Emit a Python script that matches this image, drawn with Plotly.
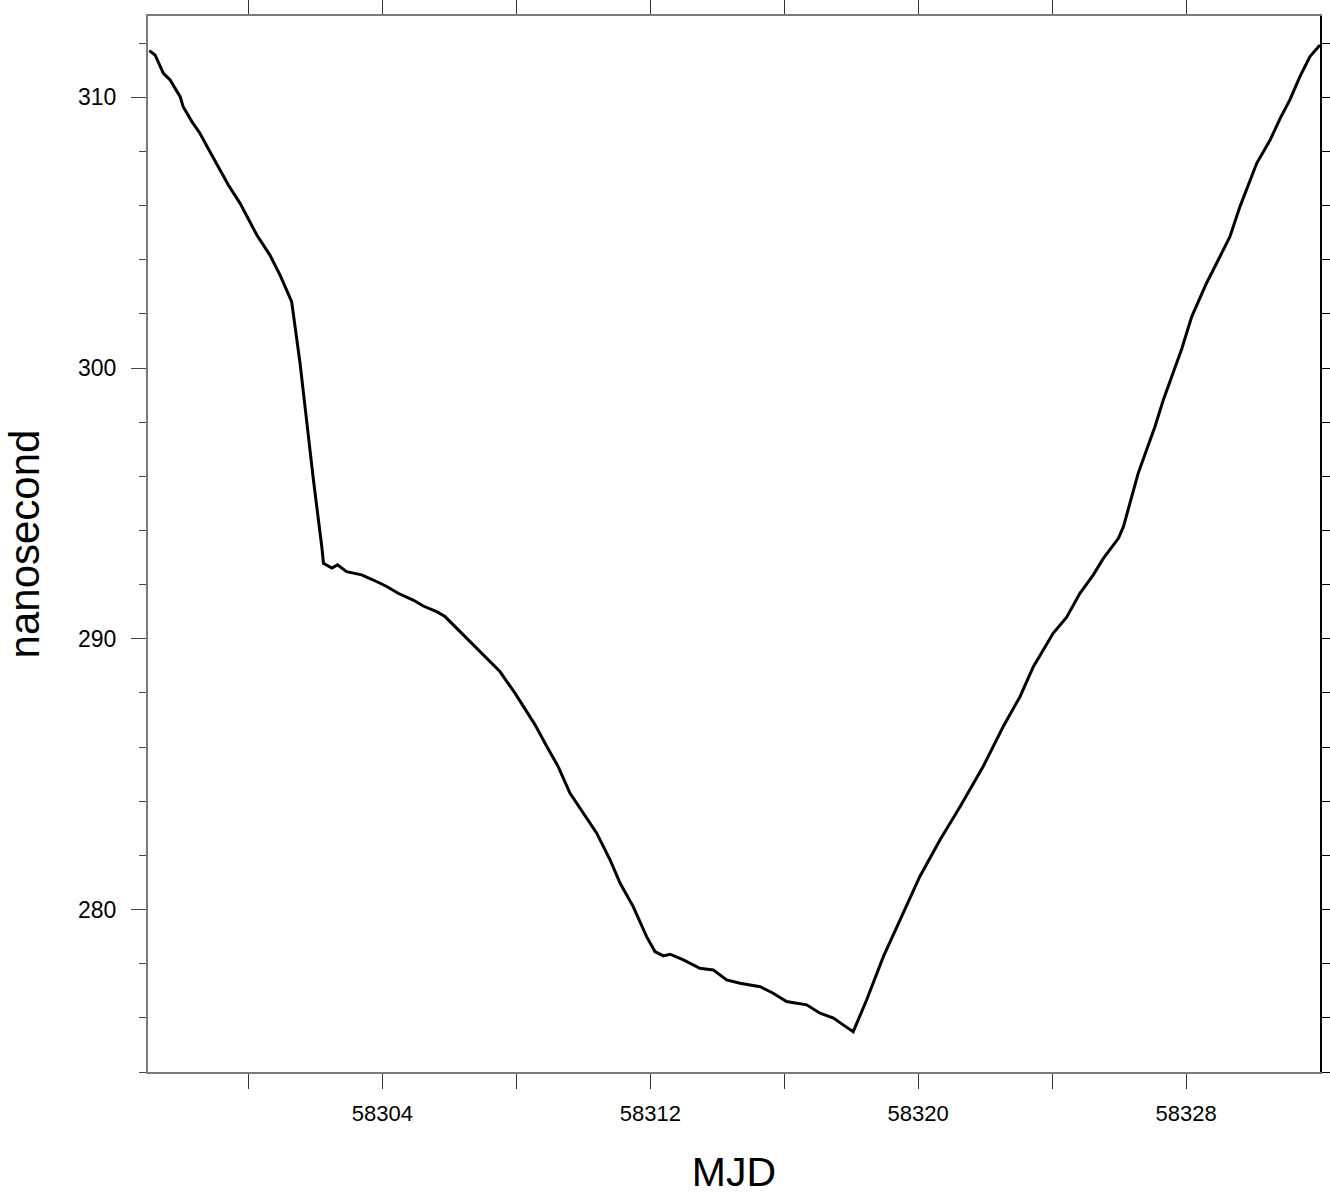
import plotly.graph_objects as go

mjd = [58297.04, 58297.21, 58297.46, 58297.66, 58297.96, 58298.05, 58298.31, 58298.55, 58298.85, 58299.15,
       58299.40, 58299.75, 58300.00, 58300.25, 58300.64, 58300.94, 58301.14, 58301.29,
       58301.54, 58301.74, 58301.94, 58302.19, 58302.24,
       58302.49, 58302.66, 58302.93, 58303.38, 58303.73, 58304.13, 58304.47, 58304.92, 58305.22, 58305.62,
       58305.87, 58306.22, 58306.85, 58307.51, 58307.96, 58308.21, 58308.56, 58308.91, 58309.25, 58309.60,
       58310.00, 58310.40, 58310.80, 58311.10, 58311.49, 58311.89, 58312.14, 58312.39, 58312.59, 58312.99,
       58313.48, 58313.88, 58314.28, 58314.68, 58315.28, 58315.67, 58316.07, 58316.67, 58317.07, 58317.47,
       58317.76, 58318.06,
       58318.46, 58318.96, 58319.46, 58320.05, 58320.65, 58321.25, 58321.94, 58322.54, 58323.04, 58323.44,
       58324.03, 58324.43, 58324.83, 58325.23, 58325.53, 58325.98, 58326.13, 58326.33, 58326.57, 58326.82,
       58327.07, 58327.32, 58327.57, 58327.87, 58328.17, 58328.61, 58329.01, 58329.31, 58329.61, 58330.11,
       58330.51, 58330.81, 58331.10, 58331.40, 58331.70, 58332.00]

ns = [311.72, 311.56, 310.88, 310.64, 310.02, 309.65, 309.10, 308.67, 307.99, 307.31,
      306.76, 306.08, 305.47, 304.91, 304.17, 303.44, 302.88, 302.45,
      300.18, 297.96, 295.87, 293.40, 292.79,
      292.61, 292.73, 292.48, 292.36, 292.17, 291.93, 291.68, 291.43, 291.21, 291.00,
      290.82, 290.39, 289.59, 288.79, 287.99, 287.49, 286.82, 286.02, 285.28, 284.30,
      283.56, 282.82, 281.83, 280.97, 280.11, 279.00, 278.45, 278.29, 278.35, 278.14,
      277.83, 277.77, 277.40, 277.28, 277.15, 276.91, 276.60, 276.48, 276.17, 275.99,
      275.74, 275.49,
      276.66, 278.26, 279.62, 281.22, 282.57, 283.80, 285.28, 286.76, 287.86, 288.97,
      290.20, 290.79, 291.68, 292.36, 292.97, 293.71, 294.14, 295.01, 296.11, 296.97,
      297.83, 298.82, 299.68, 300.70, 301.90, 303.13, 304.11, 304.85, 305.96, 307.56,
      308.42, 309.22, 309.90, 310.76, 311.50, 311.93]

x_ticks = [58304, 58312, 58320, 58328]
y_ticks = [280, 290, 300, 310]

FONT = "Liberation Sans, Arial, sans-serif"
GREY = "#7a7a7a"

fig = go.Figure()
fig.add_trace(go.Scatter(x=mjd, y=ns, mode="lines",
                         line=dict(color="black", width=3), showlegend=False, hoverinfo="skip"))
fig.add_trace(go.Scatter(x=[mjd[0]], y=[ns[0]], mode="lines", yaxis="y2",
                         line=dict(color="rgba(0,0,0,0)", width=0), showlegend=False, hoverinfo="skip"))

fig.update_layout(
    width=1330, height=1195,
    margin=dict(l=148, r=10, t=16, b=123),
    paper_bgcolor="white", plot_bgcolor="white",
    font=dict(family=FONT, color="black"),
    xaxis=dict(
        range=[58297, 58332], tickvals=x_ticks, ticktext=[str(v) for v in x_ticks],
        ticks="outside", ticklen=15, tickwidth=1.2, tickcolor="#333",
        showline=True, linecolor=GREY, linewidth=2, mirror="allticks",
        showgrid=False, zeroline=False, automargin=False,
        tickfont=dict(size=22, family=FONT), ticklabelstandoff=6,
        minor=dict(tickvals=[58300, 58308, 58316, 58324], ticks="outside", ticklen=7,
                   tickwidth=1.2, tickcolor="#333", showgrid=False),
        title=dict(text="MJD", font=dict(size=41, family=FONT), standoff=37),
    ),
    yaxis=dict(
        range=[274, 313], tickvals=y_ticks, ticktext=[str(v) for v in y_ticks],
        ticks="outside", ticklen=15, tickwidth=1.2, tickcolor="#444",
        showline=True, linecolor=GREY, linewidth=2, mirror=False,
        showgrid=False, zeroline=False, automargin=False,
        tickfont=dict(size=23, family=FONT), ticklabelstandoff=10,
        minor=dict(dtick=2, tick0=274, ticks="outside", ticklen=7,
                   tickwidth=1.2, tickcolor="#444", showgrid=False),
        title=dict(text="nanosecond", font=dict(size=42, family=FONT), standoff=25),
    ),
    yaxis2=dict(
        overlaying="y", side="right", range=[274, 313], dtick=2, tick0=274,
        ticks="outside", ticklen=8, tickwidth=1.2, tickcolor="black",
        showline=True, linecolor="black", linewidth=2, automargin=False,
        showticklabels=False, showgrid=False, zeroline=False,
    ),
)

fig.write_html("out.html", config={"displayModeBar": False},
               post_script="document.body.style.margin='0';")
